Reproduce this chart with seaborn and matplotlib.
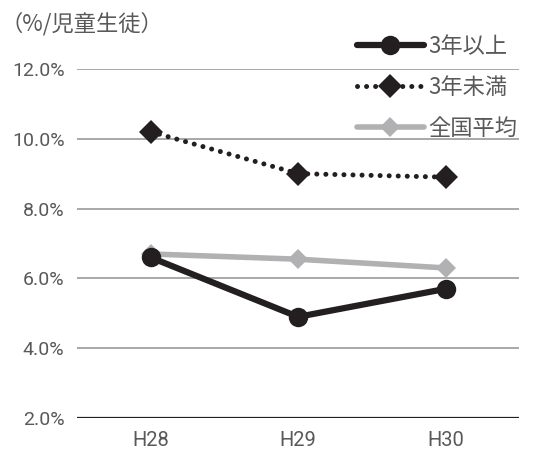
import matplotlib
matplotlib.use("Agg")
import matplotlib.pyplot as plt
import seaborn as sns
import pandas as pd
from matplotlib import font_manager

years = ["H28", "H29", "H30"]
over3 = [6.6, 4.9, 5.7]      # 3年以上
under3 = [10.2, 9.0, 8.9]    # 3年未満
national = [6.7, 6.55, 6.3]  # 全国平均
yticks = [2.0, 4.0, 6.0, 8.0, 10.0, 12.0]

sns.set_theme(style="white")
plt.rcParams['font.family'] = ['Noto Sans CJK JP', 'DejaVu Sans']

# condensed face for the numbers if one is there
names = {f.name for f in font_manager.fontManager.ttflist}
num_family = 'Liberation Sans Narrow' if 'Liberation Sans Narrow' in names else 'Roboto'

df = pd.DataFrame({"year": years, "over3": over3, "under3": under3, "national": national})

fig, ax = plt.subplots(figsize=(5.42, 4.53), dpi=100)
fig.subplots_adjust(left=0.142, right=0.958, top=0.848, bottom=0.077)

black = "#231f20"
gray = "#b1b1b3"
textc = "#595959"

for y in yticks[1:]:
    ax.axhline(y, color="#9a9a9a", lw=1.2, zorder=0)
ax.axhline(2.0, color=black, lw=1.6, zorder=0)

sns.lineplot(data=df, x="year", y="national", ax=ax, color=gray, lw=4.0,
             marker="D", markersize=10.5, markeredgewidth=0, label="全国平均", sort=False)
sns.lineplot(data=df, x="year", y="over3", ax=ax, color=black, lw=4.5,
             marker="o", markersize=14, markeredgewidth=0, label="3年以上", sort=False)
sns.lineplot(data=df, x="year", y="under3", ax=ax, color=black, lw=3.6,
             marker="D", markersize=12, markeredgewidth=0, label="3年未満", sort=False,
             linestyle=(0, (0.01, 1.8)), dash_capstyle="round")

ax.set_xlim(-0.5, 2.5)
ax.set_ylim(2.0, 12.0)
ax.set_yticks(yticks)
ax.set_yticklabels([f"{v:.1f}%" for v in yticks])
ax.set_xlabel("")
ax.set_ylabel("")
for s in ax.spines.values():
    s.set_visible(False)
ax.tick_params(axis="y", length=0, labelsize=14, colors=textc, pad=9)
ax.tick_params(axis="x", length=0, labelsize=14.5, colors=textc, pad=9)
for t in ax.get_xticklabels() + ax.get_yticklabels():
    t.set_family(num_family)

handles, labels = ax.get_legend_handles_labels()
order = [labels.index("3年以上"), labels.index("3年未満"), labels.index("全国平均")]
leg = ax.legend([handles[i] for i in order], [labels[i] for i in order],
                loc="upper left", bbox_to_anchor=(357 / 542, 1 - 35 / 453),
                bbox_transform=fig.transFigure, frameon=False, borderpad=0, borderaxespad=0,
                fontsize=16, handlelength=3.0, handletextpad=0.2, labelspacing=0.8,
                labelcolor=textc)

fig.text(0.0, 0.948, "（%/児童生徒）", fontsize=16, color=textc, ha="left", va="center")

fig.savefig("out.png", dpi=100)
